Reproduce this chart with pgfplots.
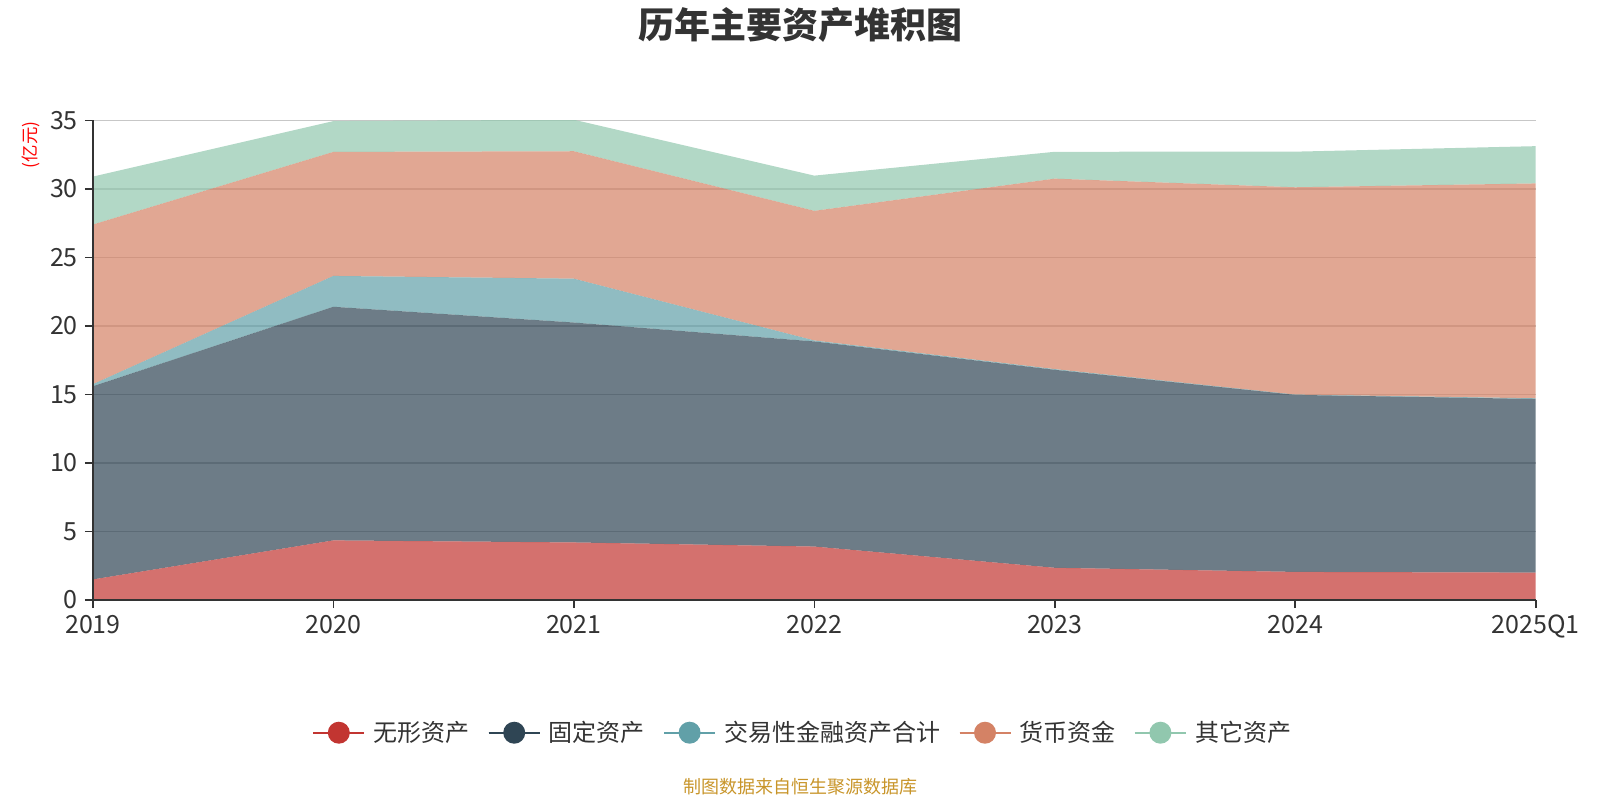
\documentclass[border=0pt]{standalone}
\usepackage{pgfplots}
\pgfplotsset{compat=1.18}
\usepackage{fontspec}
\setmainfont{Noto Sans CJK SC}
\definecolor{cA}{HTML}{C23531}
\definecolor{cB}{HTML}{2F4554}
\definecolor{cC}{HTML}{61A0A8}
\definecolor{cD}{HTML}{D48265}
\definecolor{cE}{HTML}{91C7AE}
\definecolor{txt}{HTML}{333333}
\definecolor{foot}{HTML}{C8952A}
\begin{document}
\begin{tikzpicture}[x=1pt,y=1pt]
\path[use as bounding box] (0,0) rectangle (800,400);
\node[font=\fontsize{18}{20}\selectfont\bfseries, text=txt] at (400,387.3) {历年主要资产堆积图};
\node[font=\fontsize{8.7}{10}\selectfont, text=red, rotate=90] at (15.5,327.5) {(亿元)};
\node[font=\fontsize{9}{11}\selectfont, text=foot] at (400,6.5) {制图数据来自恒生聚源数据库};
% grid underneath
\begin{axis}[
  at={(46.45pt,100pt)}, anchor=south west,
  scale only axis, width=721.4pt, height=239.8pt,
  xmin=0, xmax=6, ymin=0, ymax=35,
  xtick=\empty,
  ytick={5,10,15,20,25,30,35}, yticklabels={},
  major tick length=0pt,
  ymajorgrids, grid style={color=black!22, line width=0.6pt},
  axis line style={draw=none},
]
\end{axis}
\begin{axis}[
  at={(46.45pt,100pt)}, anchor=south west,
  scale only axis, width=721.4pt, height=239.8pt,
  xmin=0, xmax=6, ymin=0, ymax=35,
  xtick={0,1,2,3,4,5,6},
  xticklabels={2019,2020,2021,2022,2023,2024,2025Q1},
  ytick={0,5,10,15,20,25,30,35},
  axis x line*=bottom, axis y line*=left,
  axis line style={color=txt, line width=0.8pt, -},
  tick style={color=txt, line width=0.8pt},
  tick align=outside, major tick length=4pt,
  xtick pos=bottom, ytick pos=left,
  ticklabel style={font=\fontsize{12.5}{14}\selectfont, text=txt},
  /pgf/number format/assume math mode=true,
  stack plots=y,
  area style,
  legend columns=5,
  legend style={at={(0.4926,-0.2767)}, anchor=center, draw=none, fill=none,
    font=\fontsize{12}{13}\selectfont, text=txt,
    /tikz/every odd column/.append style={column sep=2pt},
    /tikz/every even column/.append style={column sep=7pt}},
]
\addplot[draw=none, fill=cA, fill opacity=0.7,
  legend image code/.code={\draw[cA, draw opacity=1, line width=1.2pt] (0pt,0pt) -- (25.5pt,0pt); \fill[cA, fill opacity=1] (12.75pt,0pt) circle (5.5pt);}]
  coordinates {(0,1.50) (1,4.35) (2,4.20) (3,3.90) (4,2.35) (5,2.05) (6,2.00)} \closedcycle;
\addlegendentry{无形资产}
\addplot[draw=none, fill=cB, fill opacity=0.7,
  legend image code/.code={\draw[cB, draw opacity=1, line width=1.2pt] (0pt,0pt) -- (25.5pt,0pt); \fill[cB, fill opacity=1] (12.75pt,0pt) circle (5.5pt);}]
  coordinates {(0,14.10) (1,17.05) (2,16.05) (3,14.97) (4,14.45) (5,12.92) (6,12.67)} \closedcycle;
\addlegendentry{固定资产}
\addplot[draw=none, fill=cC, fill opacity=0.7,
  legend image code/.code={\draw[cC, draw opacity=1, line width=1.2pt] (0pt,0pt) -- (25.5pt,0pt); \fill[cC, fill opacity=1] (12.75pt,0pt) circle (5.5pt);}]
  coordinates {(0,0.15) (1,2.25) (2,3.20) (3,0.07) (4,0.05) (5,0.02) (6,0.05)} \closedcycle;
\addlegendentry{交易性金融资产合计}
\addplot[draw=none, fill=cD, fill opacity=0.7,
  legend image code/.code={\draw[cD, draw opacity=1, line width=1.2pt] (0pt,0pt) -- (25.5pt,0pt); \fill[cD, fill opacity=1] (12.75pt,0pt) circle (5.5pt);}]
  coordinates {(0,11.65) (1,9.05) (2,9.30) (3,9.46) (4,13.90) (5,15.13) (6,15.68)} \closedcycle;
\addlegendentry{货币资金}
\addplot[draw=none, fill=cE, fill opacity=0.7,
  legend image code/.code={\draw[cE, draw opacity=1, line width=1.2pt] (0pt,0pt) -- (25.5pt,0pt); \fill[cE, fill opacity=1] (12.75pt,0pt) circle (5.5pt);}]
  coordinates {(0,3.50) (1,2.25) (2,2.30) (3,2.57) (4,1.96) (5,2.60) (6,2.72)} \closedcycle;
\addlegendentry{其它资产}
\end{axis}
\end{tikzpicture}
\end{document}
